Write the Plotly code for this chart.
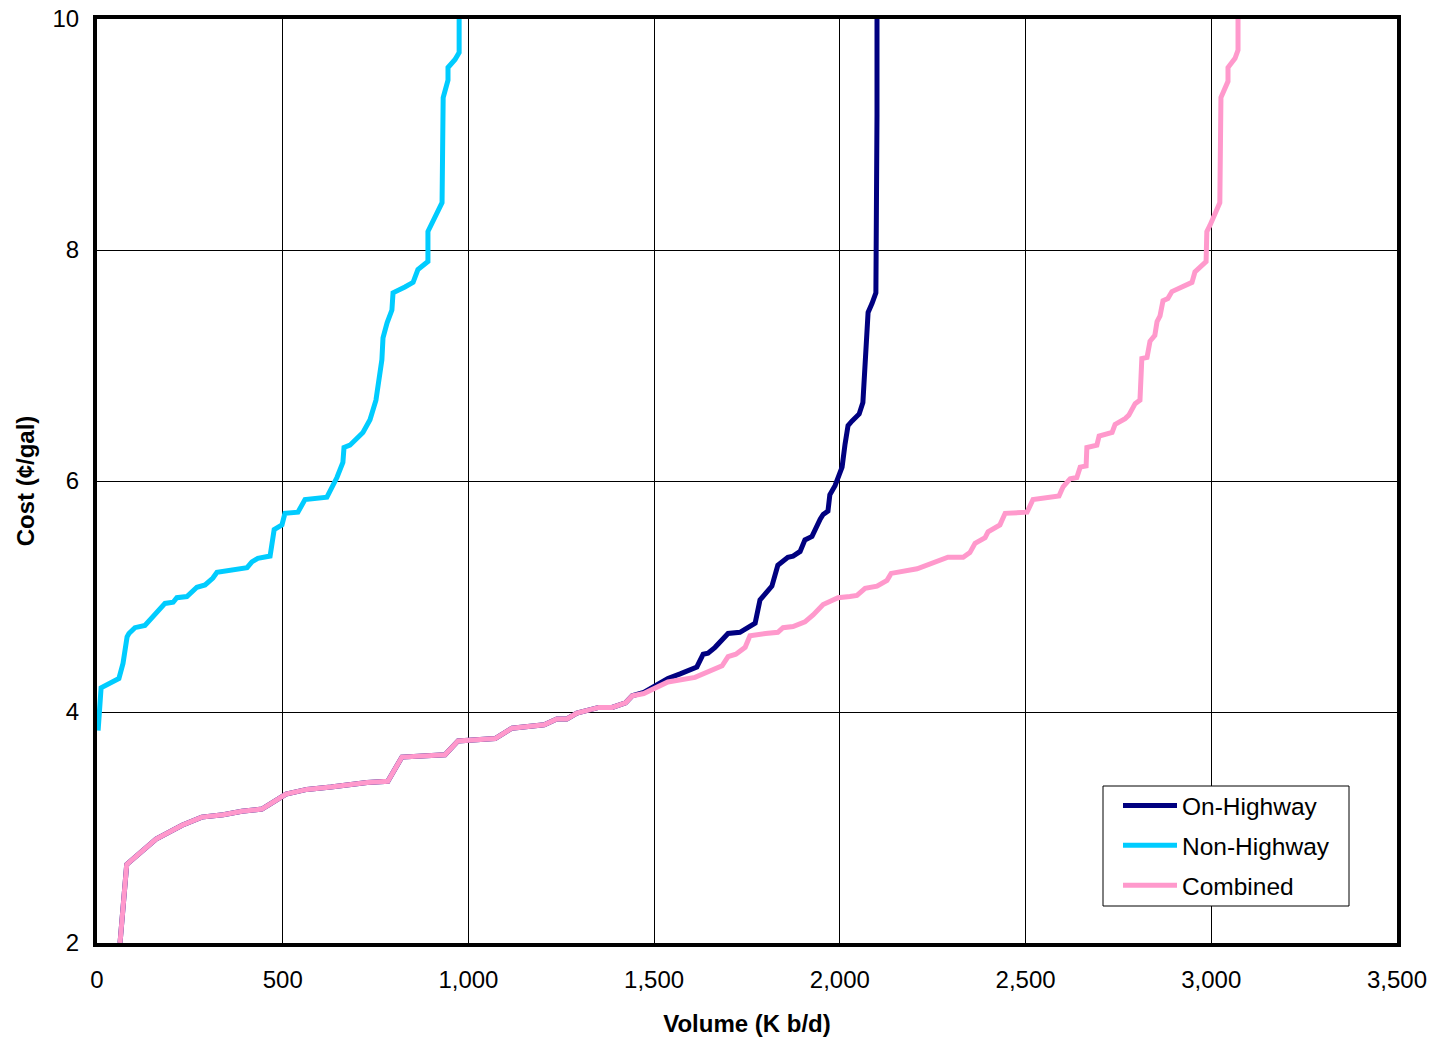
import plotly.graph_objects as go

# On-Highway supply curve (volume K b/d, cost cents/gal)
on_hw_volume = [62, 80, 159, 229, 282, 340, 390, 444, 509, 565, 630, 727, 783, 821, 937, 972,
                1072, 1117, 1204, 1238, 1265, 1292, 1351, 1387, 1423, 1441, 1472, 1497, 1537,
                1570, 1615, 1632, 1645, 1664, 1699, 1731, 1753, 1772, 1785, 1793, 1817, 1833,
                1860, 1874, 1893, 1906, 1925, 1947, 1955, 1968, 1973, 1987, 1992, 2006, 2014,
                2022, 2033, 2052, 2062, 2068, 2076, 2087, 2097, 2100, 2100]
on_hw_cost = [2.00, 2.68, 2.90, 3.02, 3.09, 3.11, 3.14, 3.16, 3.29, 3.33, 3.35, 3.39, 3.40, 3.61,
              3.63, 3.75, 3.77, 3.86, 3.89, 3.94, 3.94, 3.99, 4.04, 4.04, 4.08, 4.14, 4.17, 4.22,
              4.29, 4.33, 4.39, 4.50, 4.51, 4.56, 4.68, 4.69, 4.73, 4.77, 4.97, 5.00, 5.09, 5.27,
              5.34, 5.35, 5.39, 5.49, 5.52, 5.67, 5.71, 5.74, 5.88, 5.96, 6.00, 6.12, 6.32,
              6.48, 6.52, 6.58, 6.68, 7.10, 7.46, 7.54, 7.63, 9.17, 10.0]

# Non-Highway supply curve
non_hw_volume = [3, 11, 59, 70, 81, 86, 102, 129, 183, 205, 215, 242, 269, 291, 312, 323, 404,
                 417, 433, 466, 477, 498, 506, 541, 560, 619, 646, 662, 665, 681, 716, 735, 751,
                 767, 770, 781, 794, 797, 829, 851, 864, 891, 891, 915, 929, 932, 945, 945, 964,
                 975, 975]
non_hw_cost = [3.84, 4.21, 4.29, 4.42, 4.65, 4.68, 4.73, 4.75, 4.94, 4.95, 4.99, 5.00, 5.08,
               5.10, 5.16, 5.21, 5.25, 5.30, 5.33, 5.35, 5.58, 5.62, 5.72, 5.73, 5.84, 5.86,
               6.03, 6.16, 6.29, 6.31, 6.42, 6.53, 6.70, 7.05, 7.24, 7.37, 7.48, 7.63, 7.68,
               7.72, 7.83, 7.90, 8.16, 8.31, 8.41, 9.32, 9.47, 9.58, 9.65, 9.71, 10.0]

# Combined supply curve
comb_volume = [62, 80, 159, 229, 282, 340, 390, 444, 509, 565, 630, 727, 783, 821, 937, 972,
               1072, 1117, 1204, 1238, 1265, 1292, 1351, 1387, 1423, 1441, 1472, 1502, 1537,
               1610, 1683, 1699, 1720, 1745, 1758, 1800, 1833, 1847, 1874, 1906, 1928, 1955,
               1995, 2027, 2046, 2068, 2100, 2127, 2138, 2208, 2224, 2248, 2291, 2332, 2350,
               2364, 2391, 2399, 2431, 2445, 2504, 2520, 2590, 2601, 2620, 2638, 2647, 2663,
               2665, 2692, 2698, 2733, 2741, 2768, 2778, 2795, 2808, 2813, 2827, 2835, 2848,
               2854, 2862, 2870, 2883, 2894, 2937, 2948, 2956, 2986, 2988, 2996, 3023, 3026,
               3045, 3045, 3064, 3072, 3072]
comb_cost = [2.00, 2.68, 2.90, 3.02, 3.09, 3.11, 3.14, 3.16, 3.29, 3.33, 3.35, 3.39, 3.40, 3.61,
             3.63, 3.75, 3.77, 3.86, 3.89, 3.94, 3.94, 3.99, 4.04, 4.04, 4.08, 4.14, 4.16, 4.21,
             4.26, 4.30, 4.40, 4.48, 4.50, 4.56, 4.66, 4.68, 4.69, 4.73, 4.74, 4.78, 4.84,
             4.93, 4.99, 5.00, 5.01, 5.07, 5.09, 5.14, 5.20, 5.24, 5.26, 5.28, 5.34, 5.34,
             5.38, 5.46, 5.51, 5.56, 5.62, 5.72, 5.73, 5.84, 5.87, 5.95, 6.02, 6.03, 6.12,
             6.13, 6.29, 6.31, 6.39, 6.42, 6.49, 6.54, 6.57, 6.67, 6.70, 7.06, 7.07, 7.21,
             7.26, 7.38, 7.43, 7.56, 7.58, 7.64, 7.71, 7.72, 7.81, 7.90, 8.16, 8.21, 8.41,
             9.32, 9.46, 9.58, 9.66, 9.73, 10.0]

x_tick_vals = [0, 500, 1000, 1500, 2000, 2500, 3000, 3500]
x_tick_text = ["0", "500", "1,000", "1,500", "2,000", "2,500", "3,000", "3,500"]
y_tick_vals = [2, 4, 6, 8, 10]

FONT = "Liberation Sans, Arial, sans-serif"

fig = go.Figure()
fig.add_trace(go.Scatter(x=on_hw_volume, y=on_hw_cost, mode="lines", name="On-Highway",
                         legendgroup="a", line=dict(color="#000080", width=5)))
fig.add_trace(go.Scatter(x=non_hw_volume, y=non_hw_cost, mode="lines", name="Non-Highway",
                         legendgroup="b", line=dict(color="#00CCFF", width=5)))
fig.add_trace(go.Scatter(x=comb_volume, y=comb_cost, mode="lines", name="Combined",
                         legendgroup="c", line=dict(color="#FF99CC", width=5)))

# legend frame (drawn as a paper-referenced box)
fig.add_shape(type="rect", xref="paper", yref="paper",
              x0=(1103 - 97) / 1300, x1=(1349 - 97) / 1300,
              y0=(943 - 906) / 924, y1=(943 - 786) / 924,
              line=dict(color="black", width=1), fillcolor="white", layer="above")

fig.update_layout(
    width=1436, height=1039,
    margin=dict(l=97, r=39, t=19, b=96),
    paper_bgcolor="white", plot_bgcolor="white",
    font=dict(family=FONT, size=24, color="black"),
    showlegend=True,
    legend=dict(x=(1118 - 97) / 1300, y=(943 - 783) / 924, xanchor="left", yanchor="top",
                bgcolor="rgba(0,0,0,0)", borderwidth=0,
                font=dict(family=FONT, size=24.5, color="black"),
                itemwidth=54, tracegroupgap=5, traceorder="grouped"),
    xaxis=dict(range=[0, 3500], tickvals=x_tick_vals, ticktext=x_tick_text,
               showgrid=True, gridcolor="black", gridwidth=1, zeroline=False,
               showline=True, linecolor="black", linewidth=4, mirror=True,
               ticks="", ticklabelstandoff=12, automargin=False,
               tickfont=dict(family=FONT, size=24),
               title=dict(text="<b>Volume (K b/d)</b>", font=dict(family=FONT, size=24), standoff=24)),
    yaxis=dict(range=[2, 10], tickvals=y_tick_vals,
               showgrid=True, gridcolor="black", gridwidth=1, zeroline=False,
               showline=True, linecolor="black", linewidth=4, mirror=True,
               ticks="", ticklabelstandoff=9, automargin=False,
               tickfont=dict(family=FONT, size=24),
               title=dict(text="<b>Cost (¢/gal)</b>", font=dict(family=FONT, size=24), standoff=12)),
)

fig.write_html("out.html")
